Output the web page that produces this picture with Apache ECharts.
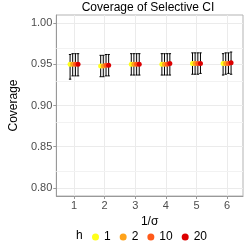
<!DOCTYPE html>
<html><head><meta charset="utf-8">
<script src="https://cdn.jsdelivr.net/npm/echarts@6/dist/echarts.min.js"></script>
<style>html,body{margin:0;padding:0;background:#fff}#c{width:249px;height:249px}</style>
</head><body><div id="c"></div>
<script>
const xVals = [1, 2, 3, 4, 5, 6];
const hLevels = ['1', '2', '10', '20'];
const cov1  = [0.950, 0.948, 0.950, 0.950, 0.951, 0.951];
const cov2  = [0.950, 0.948, 0.950, 0.950, 0.951, 0.951];
const cov10 = [0.950, 0.949, 0.950, 0.950, 0.951, 0.951];
const cov20 = [0.950, 0.949, 0.950, 0.951, 0.951, 0.952];
const lo1  = [0.932, 0.935, 0.937, 0.937, 0.938, 0.937];
const lo2  = [0.936, 0.935, 0.937, 0.937, 0.938, 0.938];
const lo10 = [0.936, 0.936, 0.937, 0.937, 0.938, 0.939];
const lo20 = [0.936, 0.936, 0.937, 0.937, 0.939, 0.938];
const hi1  = [0.962, 0.961, 0.963, 0.963, 0.964, 0.963];
const hi2  = [0.963, 0.961, 0.963, 0.963, 0.964, 0.964];
const hi10 = [0.963, 0.962, 0.963, 0.963, 0.964, 0.964];
const hi20 = [0.963, 0.962, 0.963, 0.963, 0.964, 0.965];
const yTicks = [0.80, 0.85, 0.90, 0.95, 1.00];
const yMinor = [0.825, 0.875, 0.925, 0.975];

const covs = [cov1, cov2, cov10, cov20];
const los = [lo1, lo2, lo10, lo20];
const his = [hi1, hi2, hi10, hi20];
const colors = ['#FFFF1A', '#FFA31A', '#FF5A1A', '#DD0000'];
const dodge = [-0.13, -0.045, 0.045, 0.13];
const FONT = 'Liberation Sans';

const series = [{
  type: 'scatter', name: 'minor', z: 1, silent: true, data: [],
  markLine: {
    silent: true, symbol: 'none', label: { show: false }, animation: false,
    lineStyle: { color: '#F2F2F2', width: 1, type: 'solid' },
    emphasis: { disabled: true },
    data: yMinor.map(v => ({ yAxis: v }))
  }
}];
hLevels.forEach((h, i) => {
  series.push({
    type: 'custom', name: 'eb' + h, z: 3,
    data: xVals.map((x, j) => [x + dodge[i], los[i][j], his[i][j]]),
    renderItem: (params, api) => {
      const x = api.value(0);
      const a = api.coord([x, api.value(1)]);
      const b = api.coord([x, api.value(2)]);
      const w = 1.2;
      const st = { stroke: '#000', lineWidth: 1 };
      return { type: 'group', children: [
        { type: 'line', shape: { x1: a[0], y1: a[1], x2: b[0], y2: b[1] }, style: st },
        { type: 'line', shape: { x1: a[0] - w, y1: a[1], x2: a[0] + w, y2: a[1] }, style: st },
        { type: 'line', shape: { x1: b[0] - w, y1: b[1], x2: b[0] + w, y2: b[1] }, style: st }
      ]};
    }
  });
});
hLevels.forEach((h, i) => {
  series.push({
    type: 'scatter', name: h, z: 4,
    symbol: 'circle', symbolSize: 5,
    itemStyle: { color: colors[i], opacity: 1 },
    data: xVals.map((x, j) => [x + dodge[i], covs[i][j]])
  });
});

const chart = echarts.init(document.getElementById('c'), null, { renderer: 'canvas' });
chart.setOption({
  animation: false,
  backgroundColor: '#fff',
  textStyle: { fontFamily: FONT },
  title: [
    { text: 'Coverage of Selective CI', left: 143, textAlign: 'center', top: -3,
      textStyle: { fontSize: 12, fontWeight: 'normal', color: '#000', fontFamily: FONT } },
    { text: 'h', left: 71, top: 225,
      textStyle: { fontSize: 12, fontWeight: 'normal', color: '#000', fontFamily: FONT } }
  ],
  legend: {
    data: hLevels, left: 87, top: 226, icon: 'circle', itemWidth: 7, itemHeight: 7, itemGap: 9,
    textStyle: { fontSize: 12, color: '#000', fontFamily: FONT, padding: [0, 0, 0, 0] }
  },
  grid: { left: 41, right: 6, top: 15, bottom: 53, show: true, borderColor: '#B3B3B3', borderWidth: 1 },
  xAxis: {
    type: 'value', min: 0.42, max: 6.52,
    name: '1/σ', nameLocation: 'middle', nameGap: 13,
    nameTextStyle: { fontSize: 12, color: '#000', fontFamily: FONT, verticalAlign: 'top' },
    axisLine: { show: true, lineStyle: { color: '#999' } },
    axisTick: { show: true, length: 3, customValues: xVals, lineStyle: { color: '#999' } },
    axisLabel: { customValues: xVals, fontSize: 11, color: '#4D4D4D', margin: 4, fontFamily: FONT },
    splitLine: { show: true, lineStyle: { color: '#EBEBEB', width: 1 } }
  },
  yAxis: {
    type: 'value', min: 0.79, max: 1.01,
    name: 'Coverage', nameLocation: 'middle', nameGap: 32, nameRotate: 90,
    nameTextStyle: { fontSize: 12, color: '#000', fontFamily: FONT },
    axisLine: { show: true, lineStyle: { color: '#999' } },
    axisTick: { show: true, length: 3, customValues: yTicks, lineStyle: { color: '#999' } },
    axisLabel: { customValues: yTicks, fontSize: 11, color: '#4D4D4D', margin: 4, fontFamily: FONT,
      formatter: v => v.toFixed(2) },
    splitLine: { show: true, lineStyle: { color: '#EBEBEB', width: 1 } }
  },
  series: series
});
</script></body></html>
